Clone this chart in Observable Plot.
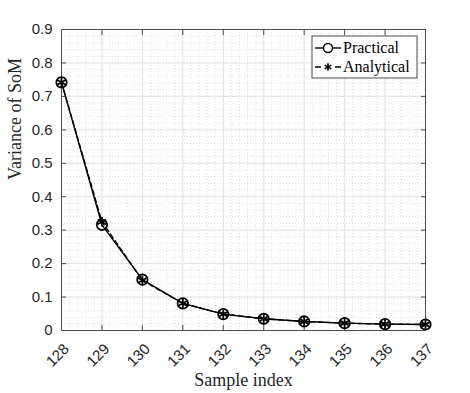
<!DOCTYPE html>
<html>
<head>
<meta charset="utf-8">
<script src="https://cdn.jsdelivr.net/npm/d3@7"></script>
<script src="https://cdn.jsdelivr.net/npm/@observablehq/plot@0.6"></script>
<style>
  html, body { margin: 0; padding: 0; background: #fff; }
  #chart { width: 470px; height: 393px; }
</style>
</head>
<body>
<div id="chart"></div>
<script>
// ---- data ----
const sampleIndex = [128, 129, 130, 131, 132, 133, 134, 135, 136, 137];
const practical  = [0.742, 0.316, 0.152, 0.081, 0.049, 0.035, 0.027, 0.022, 0.019, 0.018];
const analytical = [0.742, 0.325, 0.150, 0.081, 0.049, 0.035, 0.027, 0.022, 0.019, 0.018];
const xTicks = [128, 129, 130, 131, 132, 133, 134, 135, 136, 137];
const yTicks = [0, 0.1, 0.2, 0.3, 0.4, 0.5, 0.6, 0.7, 0.8, 0.9];
const yTickLabels = ["0", "0.1", "0.2", "0.3", "0.4", "0.5", "0.6", "0.7", "0.8", "0.9"];
const xMinor = d3.range(0, 46).map(i => 128 + i * 0.2);
const yMinor = d3.range(0, 46).map(i => i * 0.02);
const seriesNames = ["Practical", "Analytical"];
const xLabel = "Sample index";
const yLabel = "Variance of SoM";

const rows = sampleIndex.map((x, i) => ({x, y: practical[i], s: seriesNames[0]}));
const rowsA = sampleIndex.map((x, i) => ({x, y: analytical[i], s: seriesNames[1]}));

const sans = "'Liberation Sans', Arial, sans-serif";
const serif = "'Liberation Serif', 'Times New Roman', serif";
const axisCol = "#4d4d4d";

const plot = Plot.plot({
  width: 470,
  height: 393,
  marginLeft: 61,
  marginRight: 45,
  marginTop: 29,
  marginBottom: 63,
  style: {fontFamily: sans, fontSize: "15px", color: "#262626", background: "#fff"},
  x: {domain: [128, 137]},
  y: {domain: [0, 0.9]},
  marks: [
    Plot.ruleX(xMinor, {stroke: "#d6d6d6", strokeDasharray: "1,2", strokeWidth: 0.7}),
    Plot.ruleY(yMinor, {stroke: "#d6d6d6", strokeDasharray: "1,2", strokeWidth: 0.7}),
    Plot.ruleX(xTicks, {stroke: "#e4e4e4", strokeWidth: 1}),
    Plot.ruleY(yTicks, {stroke: "#e4e4e4", strokeWidth: 1}),
    Plot.frame({stroke: axisCol, strokeWidth: 1}),
    // ticks (inward) on all four sides
    Plot.axisY(yTicks, {anchor: "left", tickSize: 5, dx: 5, text: null, stroke: axisCol, label: null}),
    Plot.axisY(yTicks, {anchor: "right", tickSize: 5, dx: -5, text: null, stroke: axisCol, label: null}),
    Plot.axisX(xTicks, {anchor: "bottom", tickSize: 5, dy: -5, text: null, stroke: axisCol, label: null}),
    Plot.axisX(xTicks, {anchor: "top", tickSize: 5, dy: 5, text: null, stroke: axisCol, label: null}),
    // tick labels
    Plot.axisY(yTicks, {anchor: "left", tickSize: 0, tickPadding: 9, tickFormat: (d, i) => yTickLabels[i], label: null, fontSize: 15, fill: "#262626"}),
    Plot.axisX(xTicks, {anchor: "bottom", tickSize: 0, tickPadding: 16, dx: 5, tickRotate: -45, tickFormat: d => String(d), label: null, fontSize: 15, fill: "#262626"}),
    // series
    Plot.line(rowsA, {x: "x", y: "y", stroke: "#000", strokeWidth: 1.4, strokeDasharray: "5,3"}),
    Plot.line(rows, {x: "x", y: "y", stroke: "#000", strokeWidth: 1.4}),
    Plot.dot(rows, {x: "x", y: "y", r: 5.2, stroke: "#000", strokeWidth: 1.8, fill: "none"}),
    Plot.dot(rowsA, {x: "x", y: "y", r: 4.5, symbol: "asterisk", stroke: "#000", strokeWidth: 1.8}),
    // axis labels
    Plot.text([xLabel], {text: d => d, frameAnchor: "bottom", dy: 55, fontFamily: serif, fontSize: 18, fill: "#262626"}),
    Plot.text([yLabel], {text: d => d, frameAnchor: "left", dx: -46, rotate: -90, fontFamily: serif, fontSize: 18, fill: "#262626"})
  ]
});

document.getElementById("chart").appendChild(plot);

// legend (inside the axes, top-right)
const svg = d3.select(plot);
const lg = svg.append("g").attr("transform", "translate(312,36)").attr("text-anchor", "start");
lg.append("rect").attr("x", 0).attr("y", 0).attr("width", 105).attr("height", 42)
  .attr("fill", "#fff").attr("stroke", axisCol).attr("stroke-width", 1);
// Practical
lg.append("line").attr("x1", 3).attr("x2", 29).attr("y1", 12).attr("y2", 12).attr("stroke", "#000").attr("stroke-width", 1.4);
lg.append("circle").attr("cx", 16).attr("cy", 12).attr("r", 4.5).attr("fill", "#fff").attr("stroke", "#000").attr("stroke-width", 1.4);
lg.append("text").attr("x", 31).attr("y", 17).attr("text-anchor", "start").attr("font-family", serif).attr("font-size", 16).attr("fill", "#000").text(seriesNames[0]);
// Analytical
lg.append("line").attr("x1", 3).attr("x2", 29).attr("y1", 31).attr("y2", 31).attr("stroke", "#000").attr("stroke-width", 1.4).attr("stroke-dasharray", "6,14,6");
lg.append("path").attr("transform", "translate(16,31)").attr("d", d3.symbol(d3.symbolAsterisk, 40)()).attr("stroke", "#000").attr("stroke-width", 1.6).attr("fill", "none");
lg.append("text").attr("x", 31).attr("y", 36).attr("text-anchor", "start").attr("font-family", serif).attr("font-size", 16).attr("fill", "#000").text(seriesNames[1]);
</script>
</body>
</html>
